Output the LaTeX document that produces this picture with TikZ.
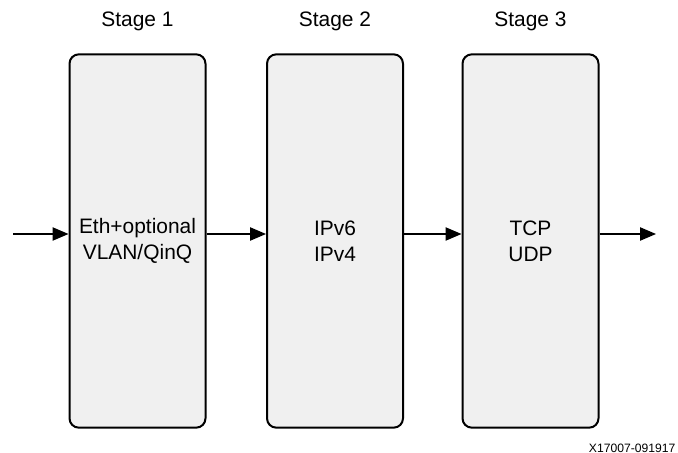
\documentclass[tikz,border=0pt]{standalone}
\usepackage{fontspec}
\setmainfont{Liberation Sans}
\usetikzlibrary{arrows.meta}
\definecolor{boxgray}{HTML}{F0F0F0}

\tikzset{
	stagebox/.style={draw, line width=1.5pt, fill=boxgray, rounded corners=7pt,
		minimum width=102pt, minimum height=280pt, align=center,
		font=\fontsize{15.7}{19.5}\selectfont},
	stagelabel/.style={font=\fontsize{15.7}{19.5}\selectfont},
	flow/.style={line width=0.9pt, -{Triangle[length=12pt, width=10pt]}}
}

\begin{document}
\begin{tikzpicture}[x=0.75pt, y=-0.75pt]
		\useasboundingbox (0,0) rectangle (678,453);
		\node[stagebox] (s1) at (137.5,241) {Eth+optional\\VLAN/QinQ};
		\node[stagebox] (s2) at (335,241) {IPv6\\IPv4};
		\node[stagebox] (s3) at (530.5,241) {TCP\\UDP};
		\node[stagelabel] (l1) at (137.5,21) {Stage 1};
		\node[stagelabel] (l2) at (335,21) {Stage 2};
		\node[stagelabel] (l3) at (530.5,21) {Stage 3};
		\coordinate (in) at (13,234);
		\coordinate (out) at (656,234);
		\draw[flow] (in) -- (s1.west |- in);
		\draw[flow] (s1.east |- in) -- (s2.west |- in);
		\draw[flow] (s2.east |- in) -- (s3.west |- in);
		\draw[flow] (s3.east |- in) -- (out);
		\node[anchor=base east, font=\fontsize{9.1}{11}\selectfont] (fig) at (680,452) {X17007-091917};
	\end{tikzpicture}
\end{document}
